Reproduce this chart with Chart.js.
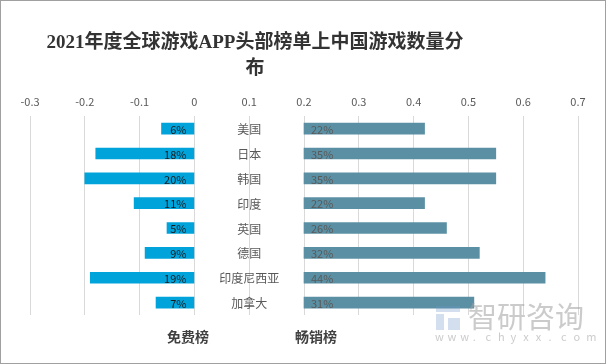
<!DOCTYPE html>
<html>
<head>
<meta charset="utf-8">
<script src="https://cdn.jsdelivr.net/npm/chart.js@4/dist/chart.umd.min.js"></script>
<style>
html,body{margin:0;padding:0;background:#fff;}
#wrap{width:606px;height:364px;position:relative;}
</style>
</head>
<body>
<div id="wrap"><canvas id="c" width="606" height="364"></canvas></div>
<script>
const categories = ['美国','日本','韩国','印度','英国','德国','印度尼西亚','加拿大'];
const freeValues = [0.06,0.18,0.20,0.11,0.05,0.09,0.19,0.07];
const grossValues = [0.22,0.35,0.35,0.22,0.26,0.32,0.44,0.31];
const seriesNames = ['免费榜','畅销榜'];
const tickValues = [-0.3,-0.2,-0.1,0,0.1,0.2,0.3,0.4,0.5,0.6,0.7];
const titleLines = ['2021年度全球游戏APP头部榜单上中国游戏数量分','布'];
const grossOffset = 0.2;
const labelColumn = 0.1;

const FONT = '"Noto Sans CJK SC", "Noto Sans", sans-serif';

const decor = {
  id: 'decor',
  afterDatasetsDraw(chart) {
    const {ctx, scales:{x, y}} = chart;
    ctx.save();
    ctx.textBaseline = 'middle';
    ctx.font = '11px ' + FONT;
    freeValues.forEach((v, i) => {
      ctx.fillStyle = '#1a1a1a';
      ctx.textAlign = 'right';
      ctx.fillText(Math.round(v*100) + '%', x.getPixelForValue(0) - 8, y.getPixelForValue(i) + 1);
    });
    grossValues.forEach((v, i) => {
      ctx.fillStyle = '#595959';
      ctx.textAlign = 'left';
      ctx.fillText(Math.round(v*100) + '%', x.getPixelForValue(grossOffset) + 7, y.getPixelForValue(i) + 1);
    });
    ctx.font = '12px ' + FONT;
    ctx.fillStyle = '#595959';
    ctx.textAlign = 'center';
    categories.forEach((c, i) => {
      ctx.fillText(c, x.getPixelForValue(labelColumn), y.getPixelForValue(i) + 1);
    });
    ctx.restore();
  },
  afterDraw(chart) {
    const {ctx} = chart;
    ctx.save();
    ctx.fillStyle = '#333333';
    ctx.textAlign = 'center';
    ctx.textBaseline = 'middle';
    ctx.font = 'bold 19px "Liberation Serif", "Noto Sans CJK SC", serif';
    ctx.fillText(titleLines[0], 255, 43);
    ctx.fillText(titleLines[1], 255, 69);
    ctx.font = 'bold 14px ' + FONT;
    ctx.fillStyle = '#404040';
    ctx.fillText(seriesNames[0], 188, 337);
    ctx.fillText(seriesNames[1], 316, 337);
    // watermark
    ctx.fillStyle = 'rgba(160,160,160,0.55)';
    ctx.font = '29px ' + FONT;
    ctx.textAlign = 'left';
    ctx.fillText('智研咨询', 468, 317);
    ctx.font = '11px ' + FONT;
    const wm = 'www.chyxx.com';
    let wx = 435;
    for (const ch of wm) { ctx.fillText(ch, wx, 337); wx += 12.6; }
    ctx.fillStyle = 'rgba(110,150,200,0.3)';
    ctx.fillRect(436, 306, 24, 6);
    ctx.fillRect(436, 314, 8, 16);
    ctx.fillRect(448, 318, 12, 12);
    ctx.strokeStyle = '#a0a0a0';
    ctx.lineWidth = 1;
    ctx.strokeRect(0.5, 0.5, 605, 363);
    ctx.restore();
  }
};

new Chart(document.getElementById('c'), {
  type: 'bar',
  data: {
    labels: categories,
    datasets: [
      {
        label: seriesNames[0],
        data: freeValues.map(v => [-v, 0]),
        backgroundColor: '#00A3DA',
        barThickness: 11,
        grouped: false,
        borderSkipped: false
      },
      {
        label: seriesNames[1],
        data: grossValues.map(v => [grossOffset, grossOffset + v]),
        backgroundColor: '#5B90A4',
        barThickness: 11,
        grouped: false,
        borderSkipped: false
      }
    ]
  },
  options: {
    indexAxis: 'y',
    responsive: false,
    animation: false,
    layout: { padding: { left: 30, right: 28, top: 87, bottom: 49 } },
    plugins: { legend: { display: false }, tooltip: { enabled: false }, title: { display: false } },
    scales: {
      x: {
        position: 'top',
        min: -0.3,
        max: 0.7,
        afterBuildTicks(scale) { scale.ticks = tickValues.map(v => ({value: v})); },
        ticks: {
          color: '#595959',
          font: { size: 11, family: FONT },
          padding: 8,
          callback: v => String(Number(v.toFixed(1)))
        },
        grid: { color: '#d9d9d9', lineWidth: 1, drawTicks: false },
        border: { display: false }
      },
      y: {
        display: false,
        offset: true
      }
    }
  },
  plugins: [decor]
});
</script>
</body>
</html>
